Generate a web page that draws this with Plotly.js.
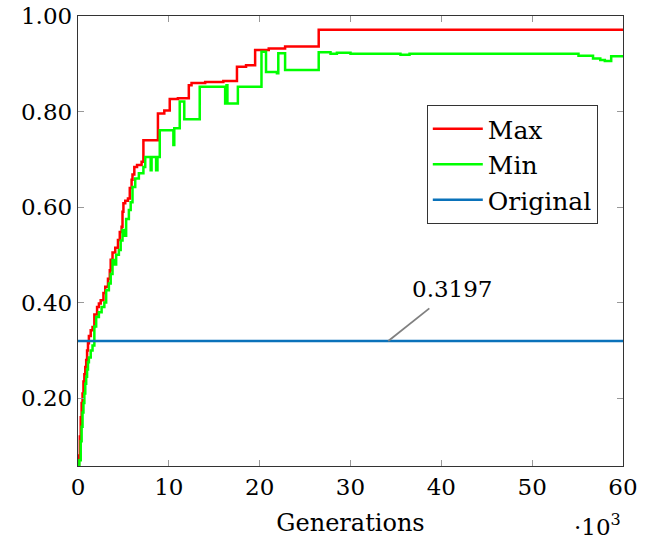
<!DOCTYPE html>
<html>
<head>
<meta charset="utf-8">
<script src="https://cdn.plot.ly/plotly-3.0.1.min.js"></script>
<style>html,body{margin:0;padding:0;background:#fff;}#chart{width:649px;height:544px;}</style>
</head>
<body>
<div id="chart"></div>
<script>
// Generations (x 10^3) and fitness values
const maxX = [0, 0.1, 0.2, 0.3, 0.4, 0.5, 0.6, 0.7, 0.8, 0.9, 1.0, 1.1, 1.2, 1.4, 1.6, 1.8, 2.1, 2.3, 2.5, 2.8, 3.0, 3.3, 3.5, 3.6, 3.8, 4.1, 4.4, 4.6, 4.8, 4.9, 5.0, 5.2, 5.5, 5.7, 5.9, 6.0, 6.2, 6.5, 7.0, 7.2, 8.8, 9.5, 10.1, 11.0, 12.2, 12.5, 14.0, 16.0, 17.5, 18.5, 19.5, 21.0, 22.8, 26.5, 60];
const maxY = [0.058, 0.08, 0.12, 0.16, 0.19, 0.21, 0.235, 0.25, 0.265, 0.28, 0.30, 0.315, 0.33, 0.342, 0.349, 0.375, 0.391, 0.398, 0.405, 0.42, 0.433, 0.45, 0.468, 0.49, 0.505, 0.515, 0.531, 0.548, 0.559, 0.59, 0.608, 0.613, 0.618, 0.64, 0.657, 0.668, 0.684, 0.688, 0.695, 0.740, 0.796, 0.802, 0.826, 0.828, 0.855, 0.860, 0.862, 0.864, 0.894, 0.897, 0.929, 0.932, 0.936, 0.971, 0.971];

const minX = [0, 0.15, 0.3, 0.4, 0.5, 0.6, 0.7, 0.8, 0.9, 1.0, 1.1, 1.2, 1.4, 1.6, 1.8, 2.0, 2.3, 2.6, 2.9, 3.1, 3.4, 3.6, 3.8, 4.0, 4.2, 4.5, 4.7, 4.9, 5.1, 5.3, 5.6, 5.8, 6.0, 6.3, 6.7, 7.2, 7.4, 8.0, 8.1, 8.6, 8.75, 9.0, 10.5, 10.6, 11.2, 11.7, 13.4, 16.2, 16.35, 16.45, 17.6, 20.2, 20.7, 21.9, 22.05, 22.8, 26.5, 27.8, 28.5, 30.0, 35.5, 36.5, 55.1, 56.7, 57.5, 58.0, 58.7, 60];
const minY = [0.058, 0.07, 0.11, 0.14, 0.17, 0.19, 0.21, 0.23, 0.245, 0.26, 0.275, 0.285, 0.30, 0.31, 0.35, 0.37, 0.38, 0.391, 0.40, 0.426, 0.44, 0.46, 0.489, 0.48, 0.50, 0.51, 0.53, 0.552, 0.54, 0.575, 0.594, 0.61, 0.642, 0.66, 0.671, 0.684, 0.705, 0.677, 0.705, 0.677, 0.705, 0.761, 0.730, 0.765, 0.821, 0.784, 0.852, 0.817, 0.855, 0.817, 0.852, 0.925, 0.883, 0.880, 0.922, 0.887, 0.924, 0.921, 0.923, 0.921, 0.919, 0.921, 0.917, 0.911, 0.908, 0.906, 0.916, 0.916];

const origX = [0, 60];
const origY = [0.3197, 0.3197];
const origLabel = "0.3197";

const font = "DejaVu Serif";
const fs = 23;

const traces = [
  {x: maxX, y: maxY, name: "Max", mode: "lines", line: {shape: "hv", color: "#ff0000", width: 2.5}},
  {x: minX, y: minY, name: "Min", mode: "lines", line: {shape: "hv", color: "#00ff00", width: 2.5}},
  {x: origX, y: origY, name: "Original", mode: "lines", line: {color: "#0a72ba", width: 2.5}}
];

const layout = {
  width: 649, height: 544,
  margin: {l: 78, r: 26, t: 16, b: 78},
  paper_bgcolor: "#fff", plot_bgcolor: "#fff",
  font: {family: font, size: fs, color: "#000"},
  showlegend: true,
  legend: {
    x: 0.640, y: 0.802, xanchor: "left", yanchor: "top",
    bordercolor: "#333", borderwidth: 1, bgcolor: "#fff",
    font: {family: font, size: 25}, itemwidth: 50, tracegroupgap: 0
  },
  xaxis: {
    range: [0, 60], dtick: 10, tick0: 0,
    ticks: "inside", ticklen: 6, tickcolor: "#999", mirror: "ticks",
    showline: true, linecolor: "#333", linewidth: 1.2,
    showgrid: false, zeroline: false,
    tickfont: {family: font, size: fs},
    title: {text: "Generations", font: {family: font, size: 24}, standoff: 15}
  },
  yaxis: {
    range: [0.058, 1.0], dtick: 0.2, tick0: 0, tickformat: ".2f",
    ticks: "inside", ticklen: 6, tickcolor: "#999", mirror: "ticks",
    showline: true, linecolor: "#333", linewidth: 1.2,
    showgrid: false, zeroline: false,
    tickfont: {family: font, size: fs}
  },
  shapes: [
    {type: "line", xref: "x", yref: "y", x0: 34.16, y0: origY[0], x1: 38.68, y1: 0.388,
     line: {color: "#808080", width: 1.8}}
  ],
  annotations: [
    {xref: "x", yref: "y", x: 41.2, y: 0.428, text: origLabel, showarrow: false,
     font: {family: font, size: fs}, xanchor: "center", yanchor: "middle"},
    {xref: "paper", yref: "paper", x: 1.0, y: -0.131, text: "·10<sup>3</sup>", showarrow: false,
     font: {family: font, size: fs}, xanchor: "right", yanchor: "middle"}
  ]
};

Plotly.newPlot("chart", traces, layout, {displayModeBar: false, staticPlot: true});
</script>
</body>
</html>
